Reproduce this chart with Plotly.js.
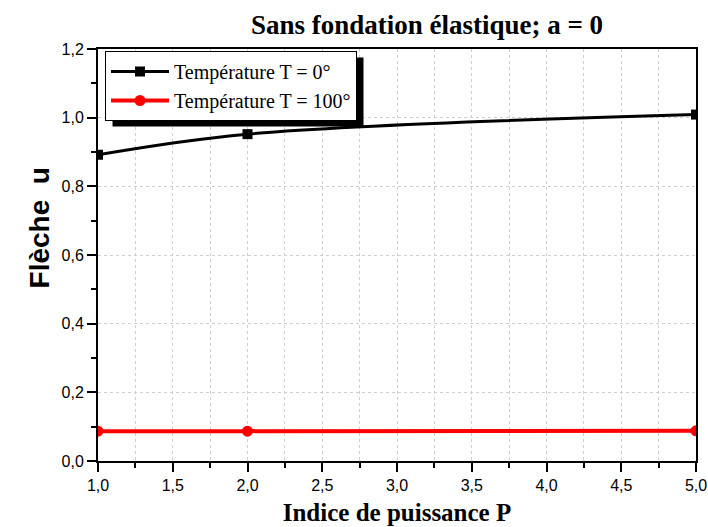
<!DOCTYPE html>
<html>
<head>
<meta charset="utf-8">
<script src="https://cdn.plot.ly/plotly-3.0.1.min.js"></script>
<style>html,body{margin:0;padding:0;background:#fff;}#chart{width:708px;height:527px;}</style>
</head>
<body>
<div id="chart"></div>
<script>
const P = [1, 2, 5];
const uT0 = [0.892, 0.952, 1.009];
const uT100 = [0.087, 0.087, 0.088];
const seriesNames = ['Température T = 0°', 'Température T = 100°'];
const xTickVals = [1.0, 1.5, 2.0, 2.5, 3.0, 3.5, 4.0, 4.5, 5.0];
const xTickText = ['1,0', '1,5', '2,0', '2,5', '3,0', '3,5', '4,0', '4,5', '5,0'];
const yTickVals = [0, 0.2, 0.4, 0.6, 0.8, 1.0, 1.2];
const yTickText = ['0,0', '0,2', '0,4', '0,6', '0,8', '1,0', '1,2'];

const serif = 'Liberation Serif, Times New Roman, serif';
const sans = 'Liberation Sans, Arial, sans-serif';

const traces = [
  {x: P, y: uT0, name: seriesNames[0], mode: 'lines+markers',
   line: {color: '#000000', width: 3, shape: 'spline'},
   marker: {symbol: 'square', size: 10, color: '#000000'}},
  {x: P, y: uT100, name: seriesNames[1], mode: 'lines+markers',
   line: {color: '#ff0000', width: 4, shape: 'spline'},
   marker: {symbol: 'circle', size: 11, color: '#ff0000'}}
];

const L = 98, R = 696, T = 49, B = 461;
const px = v => (v - L) / (R - L);
const py = v => (B - v) / (B - T);
const nb = '\u00a0';

const layout = {
  width: 708, height: 527,
  margin: {l: 98, r: 12, t: 49, b: 66},
  paper_bgcolor: '#ffffff', plot_bgcolor: '#ffffff',
  showlegend: true,
  title: {text: '<b>Sans fondation élastique; a = 0</b>', font: {family: serif, size: 27, color: '#000'},
          x: (427) / 708, xref: 'container', xanchor: 'center', y: 1 - 25 / 527, yref: 'container', yanchor: 'middle'},
  xaxis: {
    range: [1, 5], tickvals: xTickVals, ticktext: xTickText,
    ticks: 'outside', ticklen: 9, tickwidth: 2, tickcolor: '#000',
    showline: true, linecolor: '#000', linewidth: 2, mirror: true,
    showgrid: true, gridcolor: '#cfcfcf', griddash: 'dot', gridwidth: 1,
    minor: {dtick: 0.25, ticks: 'outside', ticklen: 5, tickwidth: 2, tickcolor: '#000', showgrid: true, gridcolor: '#cfcfcf', griddash: 'dot', gridwidth: 1},
    zeroline: false,
    tickfont: {family: sans, size: 16, color: '#000'},
    title: {text: '<b>Indice de puissance P</b>', font: {family: serif, size: 25, color: '#000'}, standoff: 10}
  },
  yaxis: {
    range: [0, 1.2], tickvals: yTickVals, ticktext: yTickText,
    ticks: 'outside', ticklen: 9, tickwidth: 2, tickcolor: '#000',
    showline: true, linecolor: '#000', linewidth: 2, mirror: true,
    showgrid: true, gridcolor: '#cfcfcf', griddash: 'dot', gridwidth: 1,
    minor: {dtick: 0.1, ticks: 'outside', ticklen: 5, tickwidth: 2, tickcolor: '#000', showgrid: false},
    zeroline: false,
    tickfont: {family: sans, size: 16, color: '#000'},
    title: {text: '<b>' + nb.repeat(7) + 'Flèche' + nb + nb + 'u</b>', font: {family: sans, size: 28, color: '#000'}, standoff: 4}
  },
  legend: {
    x: px(105), y: py(51), xanchor: 'left', yanchor: 'top',
    bgcolor: '#ffffff', bordercolor: '#000', borderwidth: 1,
    font: {family: serif, size: 20, color: '#000'},
    tracegroupgap: 0, itemwidth: 58
  },
  shapes: []
};

Plotly.newPlot('chart', traces, layout, {displayModeBar: false, staticPlot: true}).then(function (gd) {
  const bg = gd.querySelector('.legend rect.bg');
  const host = gd.getBoundingClientRect();
  if (!bg) return;
  const r = bg.getBoundingClientRect();
  const x0 = r.left - host.left + 7, x1 = r.right - host.left + 7;
  const y0 = r.top - host.top + 6, y1 = r.bottom - host.top + 6;
  return Plotly.relayout(gd, {shapes: [
    {type: 'rect', xref: 'paper', yref: 'paper', x0: px(x0), x1: px(x1), y0: py(y1), y1: py(y0),
     fillcolor: '#000', line: {width: 0}, layer: 'above'}
  ]});
});
</script>
</body>
</html>
